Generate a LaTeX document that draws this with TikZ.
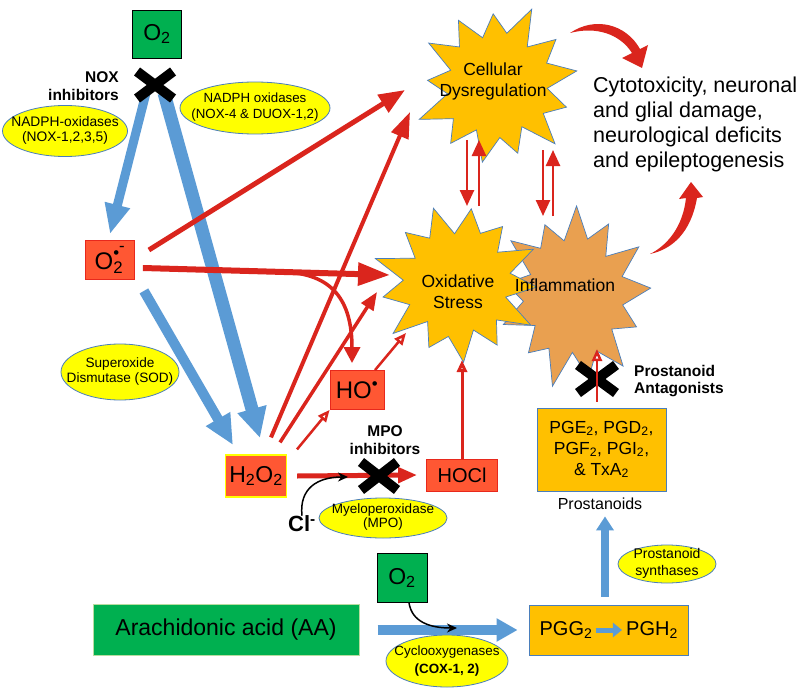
\documentclass[tikz,border=0pt]{standalone}
\usepackage{fontspec}
\setmainfont{Liberation Sans}
\usetikzlibrary{arrows.meta,shapes.geometric}
\definecolor{rd}{HTML}{DA251D}
\definecolor{bl}{HTML}{5B9BD5}
\definecolor{gr}{HTML}{00B050}
\definecolor{grline}{HTML}{B8DCA0}
\definecolor{boxred}{HTML}{FF5733}
\definecolor{boxedge}{HTML}{E8281C}
\definecolor{gold}{HTML}{FFC000}
\definecolor{tanc}{HTML}{E9A050}
\definecolor{edgeblue}{HTML}{4A7EBB}
\definecolor{yel}{HTML}{FFFF00}
\newcommand\ovtxt[1]{\makebox[0pt]{\smash{\raisebox{-0.25em}{\begin{tabular}{@{}c@{}}#1\end{tabular}}}}}
\begin{document}
\begin{tikzpicture}[x=1pt,y=-1pt,
 gbox/.style={draw=black, fill=gr, line width=0.8pt, minimum width=49pt, minimum height=48pt, inner sep=0pt, font=\fontsize{23}{25}\selectfont},
 rbox/.style={draw=boxedge, fill=boxred, line width=0.8pt, inner sep=0pt},
 oval/.style={ellipse, draw=edgeblue, fill=yel, line width=0.8pt, inner sep=0pt},
 burst/.style={draw=edgeblue, line width=0.7pt},
 boldlbl/.style={font=\bfseries\fontsize{15.5}{17.5}\selectfont, inner sep=0pt},
 xmark/.style={line width=10pt, draw=black},
 xanchor/.style={inner sep=0pt, outer sep=0pt},
 barr/.style={draw=bl},
 rarr/.style={draw=rd},
 starlbl/.style={font=\fontsize{17.5}{21}\selectfont, align=center, inner sep=0pt},
 openhead/.style={-{Triangle[open,width=10pt,length=12pt,fill=white]}}
]
\fill[white] (0,0) rectangle (800,690);
\useasboundingbox (0,0) rectangle (800,690);

% ---- bursts
\begin{scope}[shift={(574,296)}, xscale=77, yscale=91, rotate=5]
\draw[burst, fill=tanc] (0:1) \foreach \i/\r in {1/0.64, 2/0.88, 3/0.61, 4/1.0, 5/0.67, 6/0.92, 7/0.62, 8/1.03, 9/0.66, 10/0.86, 11/0.60, 12/0.97, 13/0.66, 14/0.90, 15/0.61, 16/1.02, 17/0.68, 18/0.87, 19/0.62, 20/0.99, 21/0.65, 22/0.91, 23/0.60, 24/1.0, 25/0.66} { -- ({\i*13.846}:\r) } -- cycle;
\end{scope}
\begin{scope}[shift={(458,283)}, xscale=83, yscale=81, rotate=-3]
\draw[burst, fill=gold] (0:0.95) \foreach \i/\r in {1/0.60, 2/1.02, 3/0.65, 4/0.90, 5/0.61, 6/0.98, 7/0.67, 8/0.87, 9/0.60, 10/1.0, 11/0.64, 12/0.92, 13/0.66, 14/1.04, 15/0.60, 16/0.89, 17/0.65, 18/0.97, 19/0.61, 20/0.93, 21/0.67, 22/0.88, 23/0.61, 24/1.0, 25/0.64} { -- ({\i*13.846}:\r) } -- cycle;
\end{scope}
\begin{scope}[shift={(497,85)}, xscale=81, yscale=81, rotate=10]
\draw[burst, fill=gold] (0:1) \foreach \i/\r in {1/0.62, 2/0.90, 3/0.67, 4/1.02, 5/0.60, 6/0.88, 7/0.65, 8/0.97, 9/0.61, 10/0.92, 11/0.68, 12/1.05, 13/0.62, 14/0.86, 15/0.60, 16/0.99, 17/0.66, 18/0.93, 19/0.61, 20/0.88, 21/0.65, 22/1.03, 23/0.60, 24/0.92, 25/0.67} { -- ({\i*13.846}:\r) } -- cycle;
\end{scope}

\node[starlbl] (cd) at (493,81) {Cellular\\Dysregulation};
\node[starlbl] (os) at (458,292) {Oxidative\\Stress};
\node[starlbl] (infl) at (565,285) {Inflammation};
\node[font=\fontsize{21.5}{25}\selectfont, align=left, anchor=west, inner sep=0pt] (out) at (593,124) {Cytotoxicity, neuronal\\and glial damage,\\neurological deficits\\and epileptogenesis};

% tapered curved arrows
\fill[rd] (570,33) .. controls (595,16) and (626,24) .. (640,49) -- (648,45) -- (642,68) -- (622,58) -- (632,53) .. controls (620,34) and (596,26) .. cycle;
\fill[rd] (650,254) .. controls (673,249) and (691,232) .. (697,198) -- (703,197) -- (691,182) -- (679,199) -- (686,198) .. controls (683,226) and (668,245) .. cycle;

% ---- boxes
\node[gbox] (o2a) at (157,34) {O\textsubscript{2}};
\node[rbox, minimum width=49pt, minimum height=39pt, font=\fontsize{24}{26}\selectfont] (sup) at (110,260) {O\rlap{\textsubscript{2}}\textsuperscript{\raisebox{0.15em}{\textbullet}\raisebox{0.55em}{-}}};
\node[rbox, draw=yel, line width=1.2pt, minimum width=61pt, minimum height=42pt, font=\fontsize{23}{25}\selectfont] (h2o2) at (256,476) {H\textsubscript{2}O\textsubscript{2}};
\node[rbox, minimum width=54pt, minimum height=39pt, font=\fontsize{24}{26}\selectfont] (ho) at (357,390) {HO\textsuperscript{\textbullet}};
\node[rbox, minimum width=71pt, minimum height=32pt, font=\fontsize{20}{22}\selectfont] (hocl) at (462,475) {HOCl};
\node[gbox, minimum width=50pt, minimum height=49pt] (o2b) at (402,578) {O\textsubscript{2}};
\node[draw=grline, fill=gr, line width=1pt, minimum width=266pt, minimum height=51pt, font=\fontsize{23}{25}\selectfont] (aa) at (226,630) {Arachidonic acid (AA)};
\node[draw=edgeblue, fill=gold, line width=0.8pt, minimum width=159pt, minimum height=50pt] (pgg) at (608.5,630) {};
\node[font=\fontsize{20}{22}\selectfont, inner sep=0pt] (pggt) at (566,630) {PGG\textsubscript{2}};
\node[font=\fontsize{20}{22}\selectfont, inner sep=0pt] (pght) at (652,630) {PGH\textsubscript{2}};
\node[draw=edgeblue, fill=gold, line width=0.8pt, minimum width=129pt, minimum height=83pt, align=center, font=\fontsize{17.5}{21}\selectfont] (pros) at (601.5,449.5) {PGE\textsubscript{2}, PGD\textsubscript{2},\\PGF\textsubscript{2}, PGI\textsubscript{2},\\\& TxA\textsubscript{2}};
\node[font=\fontsize{16}{18}\selectfont] (prosl) at (600,504) {Prostanoids};

% ---- ellipses
\node[oval, minimum width=125pt, minimum height=51pt, font=\fontsize{13.8}{15.5}\selectfont] (nox1) at (65,131) {\ovtxt{NADPH-oxidases\\(NOX-1,2,3,5)}};
\node[oval, minimum width=150pt, minimum height=52pt, font=\fontsize{13.3}{16}\selectfont] (nox4) at (255,108) {\ovtxt{NADPH oxidases\\(NOX-4 \& DUOX-1,2)}};
\node[oval, minimum width=118pt, minimum height=56pt, font=\fontsize{13.6}{15.5}\selectfont] (sod) at (120,372) {\ovtxt{Superoxide\\Dismutase (SOD)}};
\node[oval, minimum width=128pt, minimum height=40pt, font=\fontsize{13.5}{14.5}\selectfont] (mpo) at (383,518) {\ovtxt{Myeloperoxidase\\(MPO)}};
\node[oval, minimum width=98pt, minimum height=38pt, font=\fontsize{14}{17}\selectfont] (synth) at (667,564) {\ovtxt{Prostanoid\\synthases}};
\node[oval, minimum width=122pt, minimum height=52pt, font=\fontsize{13.4}{18}\selectfont] (cox) at (447,661) {\ovtxt{Cyclooxygenases\\\textbf{(COX-1, 2)}}};

% ---- labels
\node[boldlbl, align=right, anchor=east] (noxinh) at (119,86) {NOX\\inhibitors};
\node[boldlbl, align=center] (mpoinh) at (385,440) {MPO\\inhibitors};
\node[boldlbl, align=left, anchor=west] (proinh) at (634,381) {Prostanoid\\Antagonists};
\node[font=\bfseries\fontsize{22}{24}\selectfont, inner sep=0pt] (cl) at (302,524) {Cl\textsuperscript{-}};

% ---- anchor points
\node[xanchor, minimum width=36pt, minimum height=27pt] (noxx) at (155,85) {};
\node[xanchor, minimum width=36pt, minimum height=28pt] (mpox) at (379,476) {};
\node[xanchor, minimum width=38pt, minimum height=28pt] (prox) at (597,379) {};
\coordinate (cdA) at (405,90);
\coordinate (cdB) at (410,112);
\coordinate (osA) at (390,275);
\coordinate (osB) at (377,292);
\coordinate (osC) at (406,333);
\coordinate (osD) at (462,360);
\coordinate (inflA) at (597,349);
\coordinate (br) at (282,272);
\coordinate (t1) at (260,438);
\coordinate (t2) at (233,445);
\coordinate (clt) at (348,477);
\coordinate (coxt) at (457,628);
\coordinate (d1a) at (467,140); \coordinate (d1b) at (467,206);
\coordinate (u1a) at (479,206); \coordinate (u1b) at (479,140);
\coordinate (d2a) at (543,150); \coordinate (d2b) at (543,216);
\coordinate (u2a) at (553,216); \coordinate (u2b) at (553,150);

% ---- blue arrows
\draw[barr, line width=9pt, -{Triangle[width=24pt,length=30pt]}] ([shift={(-9,8)}]noxx.center) -- ([shift={(0,-6)}]sup.north);
\draw[barr, line width=13pt, -{Triangle[width=28pt,length=30pt]}] ([shift={(9,8)}]noxx.center) -- (t1);
\draw[barr, line width=10pt, -{Triangle[width=26pt,length=30pt]}] ([shift={(9,11)}]sup.south east) -- (t2);
\draw[barr, line width=10pt, -{Triangle[width=22pt,length=21pt]}] ([xshift=18pt]aa.east) -- ([xshift=-11pt]pgg.west);
\draw[barr, line width=8pt, -{Triangle[width=17pt,length=14pt]}] ([shift={(-3.5,-8)}]pgg.north) -- ([shift={(5,3)}]prosl.south);
\draw[barr, line width=5pt, -{Triangle[width=14pt,length=9pt]}] ([xshift=3pt]pggt.east) -- ([xshift=-4pt]pght.west);

% ---- red arrows
\draw[rarr, line width=5pt, -{Triangle[width=20pt,length=26pt]}] ([shift={(14,-10)}]sup.east) -- (cdA);
\draw[rarr, line width=6pt, -{Triangle[width=22pt,length=32pt]}] ([shift={(8,8)}]sup.east) -- (osA);
\draw[rarr, line width=3.5pt, -{Triangle[width=16pt,length=16pt]}, shorten >=7pt] (br) .. controls (332,273) and (352,300) .. ([xshift=-5pt]ho.north);
\draw[rarr, line width=4pt, -{Triangle[width=18pt,length=26pt]}] ([shift={(15,-17)}]h2o2.north) -- (cdB);
\draw[rarr, line width=3.5pt, -{Triangle[width=14pt,length=18pt]}] ([shift={(24,-12)}]h2o2.north) -- (osB);
\draw[rarr, line width=2.5pt, openhead] ([shift={(41,-5)}]h2o2.north) -- (ho.south west);
\draw[rarr, line width=2.5pt, openhead] ([shift={(18,0)}]ho.north) -- (osC);
\draw[rarr, line width=3pt, openhead] (hocl.north) -- (osD);
\draw[rarr, line width=5pt, -{Triangle[width=15pt,length=19pt]}] ([xshift=10pt]h2o2.east) -- ([xshift=-9pt]hocl.west);
\draw[rarr, line width=2.5pt, -{Triangle[width=14pt,length=16pt]}] (d1a) -- (d1b);
\draw[rarr, line width=2.5pt, -{Triangle[width=14pt,length=16pt]}] (u1a) -- (u1b);
\draw[rarr, line width=2.5pt, -{Triangle[width=14pt,length=16pt]}] (d2a) -- (d2b);
\draw[rarr, line width=2.5pt, -{Triangle[width=14pt,length=16pt]}] (u2a) -- (u2b);

% ---- black curved arrows
\draw[black, line width=1.5pt, -{Stealth[length=10pt,width=9pt]}] (cl.north) .. controls (299,488) and (318,477) .. (clt);
\draw[black, line width=1.5pt, -{Stealth[length=10pt,width=9pt]}] ([xshift=7pt]o2b.south) .. controls (412,622) and (430,628) .. (coxt);

% ---- X marks
\draw[xmark] (noxx.north west) -- (noxx.south east) (noxx.north east) -- (noxx.south west);
\draw[xmark] (mpox.north west) -- (mpox.south east) (mpox.north east) -- (mpox.south west);
\draw[xmark] (prox.north west) -- (prox.south east) (prox.north east) -- (prox.south west);
\draw[rarr, line width=2.5pt, openhead] ([shift={(-4.5,-6)}]pros.north) -- (inflA);
\end{tikzpicture}
\end{document}
